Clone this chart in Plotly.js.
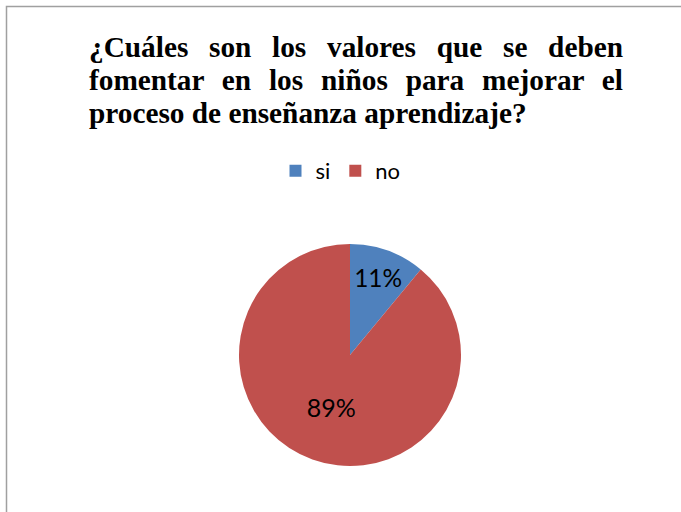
<!DOCTYPE html>
<html>
<head>
<meta charset="utf-8">
<script src="https://cdn.plot.ly/plotly-3.0.1.min.js"></script>
<style>html,body{margin:0;padding:0;background:#fff;}#chart{width:681px;height:512px;}</style>
</head>
<body>
<div id="chart"></div>
<script>
const categories = ["si", "no"];
const values = [11, 89];
const colors = ["#4F81BD", "#C0504D"];
const titleLines = [
  "¿Cuáles son los valores que se deben",
  "fomentar en los niños para mejorar el",
  "proceso de enseñanza aprendizaje?"
];

const W = 681, H = 512;
const px = x => x / W;
const py = y => 1 - y / H;

const trace = {
  type: "pie",
  labels: categories,
  values: values,
  sort: false,
  direction: "clockwise",
  rotation: 0,
  marker: {colors: colors, line: {width: 0}},
  textinfo: "percent",
  texttemplate: "%{percent:.0%}",
  textposition: "inside",
  insidetextorientation: "horizontal",
  textfont: {family: "Lato, sans-serif", size: 25, color: "#000"},
  hoverinfo: "none",
  domain: {x: [px(239), px(461)], y: [py(466), py(244)]}
};

const annotations = titleLines.map((t, i) => ({
  text: "<b>" + t + "</b>",
  xref: "paper", yref: "paper",
  x: px(87), y: py(47 + i * 33),
  xanchor: "left", yanchor: "middle", align: "left",
  showarrow: false,
  font: {family: "Liberation Serif, Times New Roman, serif", size: 29.3, color: "#000"}
}));

const layout = {
  width: W, height: H,
  margin: {l: 0, r: 0, t: 0, b: 0},
  paper_bgcolor: "#fff",
  plot_bgcolor: "#fff",
  showlegend: true,
  legend: {
    orientation: "h",
    x: 0.5, xanchor: "center",
    y: py(171), yanchor: "middle",
    font: {family: "Lato, sans-serif", size: 22, color: "#000"},
    itemwidth: 30,
    traceorder: "normal"
  },
  annotations: annotations,
  shapes: [{
    type: "rect", xref: "paper", yref: "paper",
    x0: px(6.5), x1: 1.05, y0: -0.05, y1: py(6.5),
    line: {color: "#a0a0a0", width: 1.5}, fillcolor: "rgba(0,0,0,0)"
  }]
};

Plotly.newPlot("chart", [trace], layout, {displayModeBar: false, staticPlot: true}).then(() => {
  const target = 621 - 87;
  const texts = document.querySelectorAll("#chart .annotation-text");
  texts.forEach((el, i) => {
    if (i > 1) return;
    const w = el.getComputedTextLength();
    const gaps = titleLines[i].split(" ").length - 1;
    const ws = (target - w) / gaps;
    el.setAttribute("word-spacing", ws);
    el.style.wordSpacing = ws + "px";
  });
});
</script>
</body>
</html>
